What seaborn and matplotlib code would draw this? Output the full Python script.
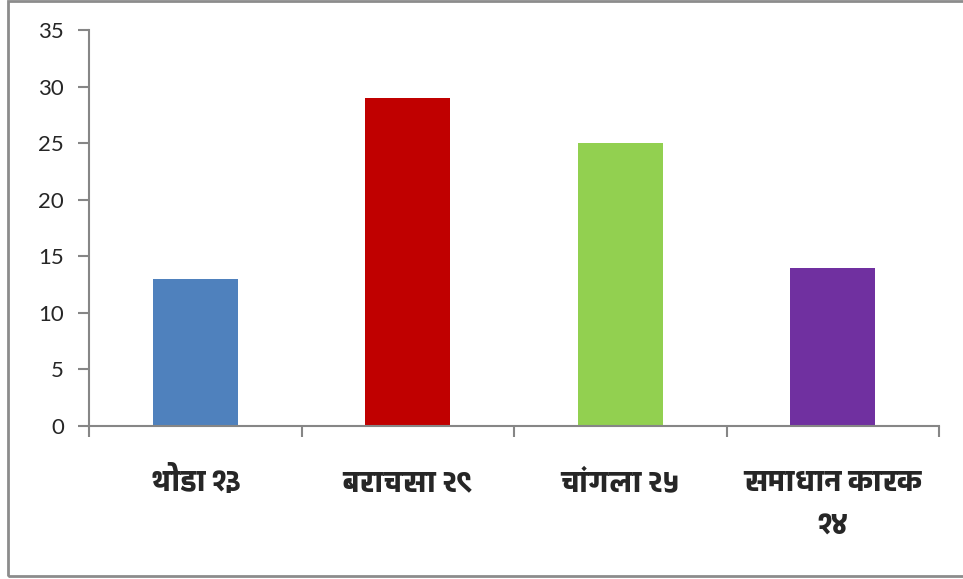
import matplotlib
matplotlib.use('Agg')
import matplotlib.pyplot as plt
from matplotlib import font_manager
from matplotlib.ft2font import FT2Font
from matplotlib.patches import Rectangle
import matplotlib.patheffects as pe
import seaborn as sns
import pandas as pd

# chart data
categories = ['थोडा १३', 'बराचसा २९', 'चांगला २५', 'समाधान कारक\n१४']
values = [13, 29, 25, 14]
colors = ['#4F81BD', '#C00000', '#92D050', '#7030A0']
y_ticks = [0, 5, 10, 15, 20, 25, 30, 35]

# look for installed fonts that can draw Devanagari, bold ones first
deva_fonts = []
for f in font_manager.fontManager.ttflist:
    try:
        if ord('थ') in FT2Font(f.fname).get_charmap():
            w = f.weight if isinstance(f.weight, int) else 400
            deva_fonts.append((w, f))
    except Exception:
        pass
deva_fonts.sort(key=lambda t: -t[0])
bold_found = bool(deva_fonts) and deva_fonts[0][0] >= 600

sns.set_style('white')
plt.rcParams['font.family'] = ['Lato', 'DejaVu Sans']

df = pd.DataFrame({'cat': categories, 'val': values})

fig = plt.figure(figsize=(9.63, 5.79), dpi=100)
ax = fig.add_axes([89 / 963, 1 - 426 / 579, 850 / 963, 396 / 579])

sns.barplot(data=df, x='cat', y='val', hue='cat', palette=colors,
            width=0.4, legend=False, saturation=1, linewidth=0, ax=ax)

ax.set_xlim(-0.5, len(categories) - 0.5)
ax.set_ylim(0, 35)
ax.set_yticks(y_ticks)
ax.set_xlabel('')
ax.set_ylabel('')

axis_grey = '#868686'
for side in ['top', 'right']:
    ax.spines[side].set_visible(False)
for side in ['left', 'bottom']:
    ax.spines[side].set_color(axis_grey)
    ax.spines[side].set_linewidth(1.5)

ax.tick_params(axis='y', direction='out', length=8, width=1.5, color=axis_grey,
               labelsize=16, pad=10, left=True)
ax.tick_params(axis='x', which='major', length=0, pad=29)
ax.set_xticks([i - 0.5 for i in range(len(categories) + 1)], minor=True)
ax.tick_params(axis='x', which='minor', direction='out', length=8, width=1.5,
               color=axis_grey, bottom=True)

for lbl in ax.get_xticklabels():
    if deva_fonts:
        lbl.set_fontproperties(font_manager.FontProperties(fname=deva_fonts[0][1].fname, size=21))
    else:
        lbl.set_fontsize(21)
        lbl.set_fontweight('bold')
    lbl.set_verticalalignment('top')
    lbl.set_multialignment('center')
    lbl.set_linespacing(1.45)
    if not bold_found:
        # fake a bold face with a thin outline
        lbl.set_path_effects([pe.withStroke(linewidth=1.1, foreground='black')])

# outer chart frame
fig.patches.append(Rectangle((8 / 963, 3 / 579), 1.0, 575 / 579, transform=fig.transFigure,
                             fill=False, edgecolor='#8c8c8c', linewidth=2))

fig.savefig('out.png', dpi=100)
